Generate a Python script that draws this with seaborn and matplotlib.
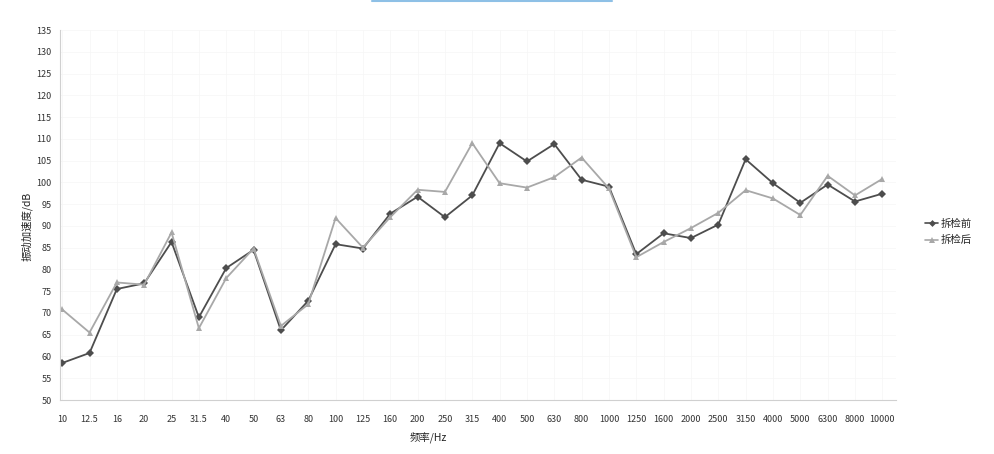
import numpy as np
import pandas as pd
import matplotlib
matplotlib.use("Agg")
import matplotlib.pyplot as plt
import seaborn as sns
from matplotlib.lines import Line2D

freqs = ["10", "12.5", "16", "20", "25", "31.5", "40", "50", "63", "80", "100", "125",
         "160", "200", "250", "315", "400", "500", "630", "800", "1000", "1250", "1600",
         "2000", "2500", "3150", "4000", "5000", "6300", "8000", "10000"]
before = [58.5, 60.8, 75.5, 76.8, 86.3, 69.0, 80.3, 84.5, 66.0, 72.8, 85.8, 84.8,
          92.8, 96.7, 92.0, 97.0, 109.0, 104.8, 108.8, 100.6, 99.0, 83.5, 88.3,
          87.2, 90.3, 105.3, 99.8, 95.3, 99.5, 95.6, 97.4]
after = [70.8, 65.5, 77.0, 76.5, 88.5, 66.5, 78.0, 84.8, 67.0, 72.0, 91.8, 85.0,
         92.0, 98.3, 97.8, 109.0, 99.8, 98.8, 101.2, 105.7, 98.6, 82.8, 86.3,
         89.5, 93.0, 98.2, 96.3, 92.5, 101.5, 97.0, 100.8]
series_names = ["拆检前", "拆检后"]
y_ticks = list(range(50, 136, 5))

sns.set_theme(style="white")
plt.rcParams['font.family'] = ['Noto Sans CJK SC', 'DejaVu Sans']

pos = list(range(len(freqs)))
df = pd.DataFrame({
    "pos": pos * 2,
    "val": before + after,
    "series": [series_names[0]] * len(freqs) + [series_names[1]] * len(freqs),
})

fig = plt.figure(figsize=(9.95, 4.54), dpi=100)
ax = fig.add_axes([60 / 995, 1 - 400 / 454, 836 / 995, 370 / 454])

sns.lineplot(data=df, x="pos", y="val", hue="series", style="series",
             palette={series_names[0]: "#4d4d4d", series_names[1]: "#a8a8a8"},
             markers={series_names[0]: "D", series_names[1]: "^"},
             dashes=False, markersize=4, linewidth=1.3, markeredgewidth=0,
             ax=ax, legend=False)

ax.set_xlim(-0.08, 30.5)
ax.set_ylim(50, 135)
ax.set_xticks(pos)
ax.set_xticklabels(freqs, fontsize=6.5, color="#333333")
ax.set_yticks(y_ticks)
ax.set_yticklabels([str(v) for v in y_ticks], fontsize=6.5, color="#333333")
ax.tick_params(axis="both", length=2, width=0.6, colors="#bbbbbb", labelcolor="#333333", pad=6)
ax.tick_params(axis="x", pad=9)
ax.tick_params(axis="y", pad=4)

ax.grid(True, color="#f6f6f6", linewidth=0.5)
for s in ["top", "right"]:
    ax.spines[s].set_visible(False)
for s in ["left", "bottom"]:
    ax.spines[s].set_color("#d0d0d0")
    ax.spines[s].set_linewidth(0.8)

ax.set_xlabel("频率/Hz", fontsize=7.5, color="#222222", labelpad=5)
ax.xaxis.set_label_coords(0.44, -0.085)
ax.set_ylabel("振动加速度/dB", fontsize=7.5, color="#222222", labelpad=6)
ax.yaxis.set_label_coords(-0.033, 0.47)

handles = [
    Line2D([], [], color="#4d4d4d", marker="D", markersize=3.5, linewidth=1.2, markeredgewidth=0),
    Line2D([], [], color="#a8a8a8", marker="^", markersize=4, linewidth=1.2, markeredgewidth=0),
]
fig.legend(handles, series_names, loc="center left", bbox_to_anchor=(916 / 995, 1 - 232 / 454),
           frameon=False, fontsize=7.5, handlelength=1.2, handletextpad=0.3, labelspacing=0.6)

fig.add_artist(Line2D([372 / 995, 612 / 995], [1 - 1 / 454, 1 - 1 / 454],
                      color="#8ec0e6", linewidth=1.5, transform=fig.transFigure))

fig.savefig("out.png", dpi=100, facecolor="white")
